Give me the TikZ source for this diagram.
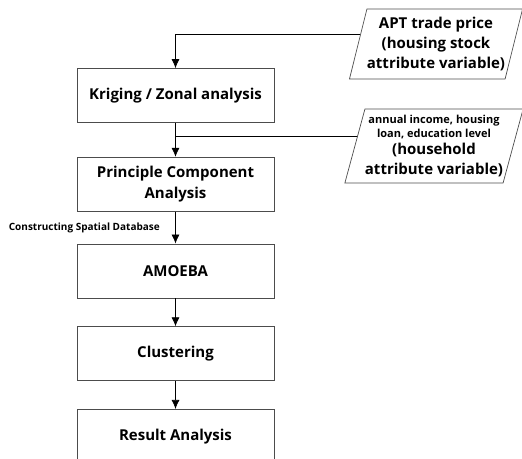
\documentclass[tikz,border=0pt]{standalone}
\usepackage{fontspec}
\setsansfont{Open Sans}
\usetikzlibrary{positioning,shapes.geometric,calc,arrows.meta}

\begin{document}
\begin{tikzpicture}[x=1pt,y=-1pt,->,>={Latex[length=9pt,width=8pt]},line width=0.7pt,node distance=30pt,
    main node/.style={rectangle,draw=black!70,minimum width=197pt,minimum height=54pt,align=center,font=\sffamily\bfseries\fontsize{15}{21}\selectfont},
    input node/.style={trapezium,trapezium left angle=72,trapezium right angle=108,trapezium stretches=true,draw=black!70,minimum width=172pt,minimum height=70pt,inner sep=0pt,align=center,font=\sffamily\bfseries\fontsize{15}{20}\selectfont}]
    \useasboundingbox (0,0) rectangle (522,458);

    \node[main node] (krig) at (175.5,95.5) {Kriging / Zonal analysis};
    \node[main node] (pca) [below=34pt of krig] {Principle Component\\Analysis};
    \node[main node] (amoeba) [below=32pt of pca] {AMOEBA};
    \node[main node] (clust) [below=28pt of amoeba] {Clustering};
    \node[main node] (result) [below=28pt of clust] {Result Analysis};

    % input variables
    \node[input node] (apt) at (436,44) {APT trade price\\(housing stock\\attribute variable)};
    \node[input node,minimum height=74pt] (hh) at (434,146) {\fontsize{11}{13}\selectfont annual income, housing\\[-6pt]\fontsize{11}{13}\selectfont loan, education level\\[-3pt]\fontsize{15}{20}\selectfont (household\\attribute variable)};

    \coordinate (aptin) at ($(apt.top left corner)!0.37!(apt.bottom left corner)$);
    \coordinate (hhin) at ($(hh.top left corner)!0.365!(hh.bottom left corner)$);
    \coordinate (join) at (krig.south |- hhin);

    \draw (aptin) -| (krig);
    \draw (krig) -- (pca);
    \draw[-] (hhin) -- (join);
    \draw (pca) -- node[left=12pt,font=\sffamily\bfseries\fontsize{10}{12}\selectfont] {Constructing Spatial Database} (amoeba);
    \draw (amoeba) -- (clust);
    \draw (clust) -- (result);
\end{tikzpicture}
\end{document}
